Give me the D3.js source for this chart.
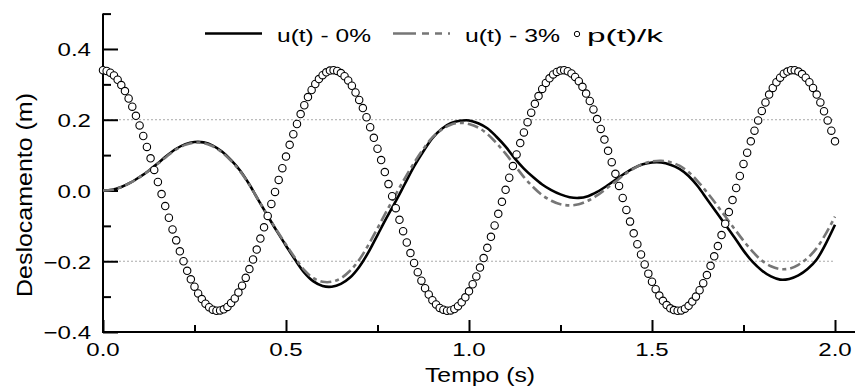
<!DOCTYPE html>
<html><head><meta charset="utf-8">
<script src="https://cdn.jsdelivr.net/npm/d3@7"></script>
<style>
body{margin:0;background:#fff}
svg{display:block}
text{font-family:"Liberation Sans",Arial,Helvetica,sans-serif;fill:#000}
</style>
</head><body>
<svg id="chart" width="855" height="388"></svg>
<script>
// ---------- data ----------
const uTime = [0.000,0.025,0.050,0.075,0.100,0.125,0.150,0.175,0.200,0.225,
0.250,0.275,0.300,0.325,0.350,0.375,0.400,0.425,0.450,0.475,
0.500,0.525,0.550,0.575,0.600,0.625,0.650,0.675,0.700,0.725,
0.750,0.775,0.800,0.825,0.850,0.875,0.900,0.925,0.950,0.975,
1.000,1.025,1.050,1.075,1.100,1.125,1.150,1.175,1.200,1.225,
1.250,1.275,1.300,1.325,1.350,1.375,1.400,1.425,1.450,1.475,
1.500,1.525,1.550,1.575,1.600,1.625,1.650,1.675,1.700,1.725,
1.750,1.775,1.800,1.825,1.850,1.875,1.900,1.925,1.950,1.975,2.000];

const uDamp0 = [0.000,0.002,0.010,0.022,0.038,0.056,0.077,0.099,0.118,0.131,
0.137,0.136,0.127,0.110,0.086,0.056,0.017,-0.028,-0.072,-0.115,
-0.156,-0.196,-0.232,-0.257,-0.270,-0.272,-0.264,-0.246,-0.216,-0.175,
-0.126,-0.077,-0.030,0.019,0.068,0.110,0.148,0.174,0.190,0.197,
0.198,0.190,0.176,0.152,0.124,0.091,0.062,0.038,0.017,0.001,
-0.011,-0.019,-0.021,-0.016,-0.004,0.012,0.030,0.048,0.063,0.074,
0.079,0.079,0.073,0.061,0.041,0.012,-0.024,-0.060,-0.096,-0.132,
-0.170,-0.202,-0.226,-0.243,-0.252,-0.250,-0.240,-0.222,-0.195,-0.150,-0.097];

const uDamp3 = [0.000,0.002,0.010,0.022,0.038,0.056,0.076,0.097,0.116,0.129,
0.135,0.134,0.125,0.108,0.084,0.054,0.016,-0.028,-0.071,-0.113,
-0.153,-0.191,-0.225,-0.248,-0.258,-0.258,-0.248,-0.227,-0.196,-0.154,
-0.107,-0.058,-0.011,0.035,0.078,0.117,0.150,0.172,0.186,0.191,
0.188,0.178,0.160,0.134,0.104,0.071,0.038,0.010,-0.013,-0.029,
-0.039,-0.042,-0.039,-0.029,-0.014,0.005,0.025,0.045,0.062,0.075,
0.082,0.084,0.080,0.070,0.052,0.026,-0.005,-0.038,-0.073,-0.108,
-0.142,-0.173,-0.198,-0.214,-0.222,-0.221,-0.210,-0.191,-0.163,-0.122,-0.074];

const pTime = [0.00,0.01,0.02,0.03,0.04,0.05,0.06,0.07,0.08,0.09,
0.10,0.11,0.12,0.13,0.14,0.15,0.16,0.17,0.18,0.19,
0.20,0.21,0.22,0.23,0.24,0.25,0.26,0.27,0.28,0.29,
0.30,0.31,0.32,0.33,0.34,0.35,0.36,0.37,0.38,0.39,
0.40,0.41,0.42,0.43,0.44,0.45,0.46,0.47,0.48,0.49,
0.50,0.51,0.52,0.53,0.54,0.55,0.56,0.57,0.58,0.59,
0.60,0.61,0.62,0.63,0.64,0.65,0.66,0.67,0.68,0.69,
0.70,0.71,0.72,0.73,0.74,0.75,0.76,0.77,0.78,0.79,
0.80,0.81,0.82,0.83,0.84,0.85,0.86,0.87,0.88,0.89,
0.90,0.91,0.92,0.93,0.94,0.95,0.96,0.97,0.98,0.99,
1.00,1.01,1.02,1.03,1.04,1.05,1.06,1.07,1.08,1.09,
1.10,1.11,1.12,1.13,1.14,1.15,1.16,1.17,1.18,1.19,
1.20,1.21,1.22,1.23,1.24,1.25,1.26,1.27,1.28,1.29,
1.30,1.31,1.32,1.33,1.34,1.35,1.36,1.37,1.38,1.39,
1.40,1.41,1.42,1.43,1.44,1.45,1.46,1.47,1.48,1.49,
1.50,1.51,1.52,1.53,1.54,1.55,1.56,1.57,1.58,1.59,
1.60,1.61,1.62,1.63,1.64,1.65,1.66,1.67,1.68,1.69,
1.70,1.71,1.72,1.73,1.74,1.75,1.76,1.77,1.78,1.79,
1.80,1.81,1.82,1.83,1.84,1.85,1.86,1.87,1.88,1.89,
1.90,1.91,1.92,1.93,1.94,1.95,1.96,1.97,1.98,1.99,2.00];

const pOverK = [0.340,0.338,0.333,0.325,0.313,0.298,0.281,0.260,0.237,0.211,
0.184,0.154,0.123,0.091,0.058,0.024,-0.010,-0.044,-0.077,-0.110,
-0.141,-0.172,-0.200,-0.227,-0.251,-0.272,-0.291,-0.307,-0.320,-0.330,
-0.337,-0.340,-0.339,-0.336,-0.329,-0.318,-0.305,-0.288,-0.269,-0.247,
-0.222,-0.195,-0.167,-0.136,-0.104,-0.072,-0.038,-0.004,0.030,0.063,
0.096,0.129,0.159,0.188,0.216,0.241,0.264,0.284,0.301,0.315,
0.326,0.334,0.339,0.340,0.338,0.332,0.323,0.311,0.296,0.277,
0.256,0.233,0.207,0.179,0.149,0.118,0.086,0.052,0.018,-0.016,
-0.050,-0.083,-0.115,-0.147,-0.177,-0.205,-0.231,-0.255,-0.276,-0.294,
-0.310,-0.322,-0.332,-0.337,-0.340,-0.339,-0.335,-0.327,-0.316,-0.302,
-0.285,-0.265,-0.243,-0.218,-0.191,-0.162,-0.131,-0.099,-0.066,-0.032,
0.002,0.036,0.069,0.102,0.134,0.164,0.193,0.220,0.245,0.267,
0.287,0.304,0.317,0.328,0.335,0.339,0.340,0.337,0.331,0.321,
0.309,0.293,0.274,0.253,0.229,0.202,0.174,0.144,0.112,0.080,
0.047,0.013,-0.021,-0.055,-0.088,-0.121,-0.152,-0.181,-0.209,-0.235,
-0.258,-0.279,-0.297,-0.312,-0.324,-0.333,-0.338,-0.340,-0.339,-0.334,
-0.326,-0.314,-0.300,-0.282,-0.262,-0.239,-0.213,-0.186,-0.157,-0.126,
-0.094,-0.061,-0.027,0.007,0.041,0.075,0.107,0.139,0.169,0.198,
0.225,0.249,0.271,0.290,0.306,0.319,0.330,0.336,0.340,0.340,
0.336,0.329,0.319,0.306,0.290,0.271,0.249,0.224,0.198,0.169,0.139];

const xTicks = [0, 0.5, 1.0, 1.5, 2.0];
const xMinorTicks = [0.25, 0.75, 1.25, 1.75];
const yTicks = [-0.4, -0.2, 0.0, 0.2, 0.4];
const yMinorTicks = [-0.3, -0.1, 0.1, 0.3, 0.5];
const gridValues = [-0.2, 0.2];
const legendLabels = ["u(t) - 0%", "u(t) - 3%", "p(t)/k"];
const xTitle = "Tempo (s)";
const yTitle = "Deslocamento (m)";

// ---------- drawing ----------
const svg = d3.select("#chart");
const x = d3.scaleLinear().domain([0, 2]).range([103, 835]);
const y = d3.scaleLinear().domain([-0.4, 0.5]).range([332, 13.6]);
const fmt = d3.format(".1f");

// grid lines
svg.append("g").selectAll("line").data(gridValues).join("line")
  .attr("x1", x(0)).attr("x2", x(2))
  .attr("y1", d => y(d)).attr("y2", d => y(d))
  .attr("stroke", "#aaa").attr("stroke-width", 1).attr("stroke-dasharray", "2,2");

// axes (ticks inward)
function styleAxis(g){
  g.select(".domain").remove();
  g.selectAll(".tick line").attr("stroke", "#000").attr("stroke-width", 2);
  g.selectAll(".tick text").remove();
}
svg.append("g").attr("transform", `translate(${x(0)},0)`)
  .call(d3.axisRight(y).tickValues(yTicks).tickSize(15).tickFormat("")).call(styleAxis);
svg.append("g").attr("transform", `translate(${x(0)},0)`)
  .call(d3.axisRight(y).tickValues(yMinorTicks).tickSize(8).tickFormat("")).call(styleAxis);
svg.append("g").attr("transform", `translate(0,${y(-0.4)})`)
  .call(d3.axisTop(x).tickValues(xTicks).tickSize(12).tickFormat("")).call(styleAxis);
svg.append("g").attr("transform", `translate(0,${y(-0.4)})`)
  .call(d3.axisTop(x).tickValues(xMinorTicks).tickSize(7).tickFormat("")).call(styleAxis);

// axis lines
svg.append("line").attr("x1", x(0)).attr("x2", x(0)).attr("y1", y(0.5)).attr("y2", y(-0.4) + 1)
  .attr("stroke", "#000").attr("stroke-width", 2);
svg.append("line").attr("x1", x(0) - 1).attr("x2", 855).attr("y1", y(-0.4)).attr("y2", y(-0.4))
  .attr("stroke", "#000").attr("stroke-width", 2);

// tick labels
svg.append("g").selectAll("text").data(xTicks).join("text")
  .attr("transform", d => `translate(${x(d)},356) scale(1.3,1)`)
  .attr("text-anchor", "middle").attr("font-size", 18.5).text(d => fmt(d));
svg.append("g").selectAll("text").data(yTicks).join("text")
  .attr("transform", d => `translate(91,${y(d) + 7.4}) scale(1.3,1)`)
  .attr("text-anchor", "end").attr("font-size", 18.5).text(d => fmt(d));

// axis titles
svg.append("text").attr("x", 425).attr("y", 382).attr("font-size", 19.5)
  .attr("textLength", 110).attr("lengthAdjust", "spacingAndGlyphs").text(xTitle);
svg.append("text").attr("transform", "translate(32,297) rotate(-90)")
  .attr("x", 0).attr("y", 0).attr("font-size", 22.5)
  .attr("textLength", 204).attr("lengthAdjust", "spacingAndGlyphs").text(yTitle);

// lines
const idx0 = d3.range(uTime.length);
const lineU0 = d3.line().x(i => x(uTime[i])).y(i => y(uDamp0[i])).curve(d3.curveCatmullRom);
const lineU3 = d3.line().x(i => x(uTime[i])).y(i => y(uDamp3[i])).curve(d3.curveCatmullRom);
svg.append("path").attr("d", lineU0(idx0)).attr("fill", "none")
  .attr("stroke", "#000").attr("stroke-width", 2.6);
svg.append("path").attr("d", lineU3(idx0)).attr("fill", "none")
  .attr("stroke", "#767676").attr("stroke-width", 2.6).attr("stroke-dasharray", "11,4,4,4");

// p(t)/k markers
svg.append("g").selectAll("circle").data(d3.range(pTime.length)).join("circle")
  .attr("cx", i => x(pTime[i])).attr("cy", i => y(pOverK[i])).attr("r", 3.7)
  .attr("fill", "#fff").attr("stroke", "#000").attr("stroke-width", 1.1);

// legend
const lg = svg.append("g");
lg.append("line").attr("x1", 205).attr("x2", 262).attr("y1", 33.5).attr("y2", 33.5)
  .attr("stroke", "#000").attr("stroke-width", 2.6);
lg.append("text").attr("x", 277).attr("y", 41.5).attr("font-size", 19)
  .attr("textLength", 94).attr("lengthAdjust", "spacingAndGlyphs").text(legendLabels[0]);
lg.append("line").attr("x1", 393).attr("x2", 450).attr("y1", 33.5).attr("y2", 33.5)
  .attr("stroke", "#767676").attr("stroke-width", 2.6).attr("stroke-dasharray", "23,6,7,6,7,6");
lg.append("text").attr("x", 465).attr("y", 41.5).attr("font-size", 19)
  .attr("textLength", 95).attr("lengthAdjust", "spacingAndGlyphs").text(legendLabels[1]);
lg.append("circle").attr("cx", 577).attr("cy", 34).attr("r", 2.7)
  .attr("fill", "#fff").attr("stroke", "#000").attr("stroke-width", 1);
lg.append("text").attr("x", 587).attr("y", 41.5).attr("font-size", 19)
  .attr("textLength", 76).attr("lengthAdjust", "spacingAndGlyphs").text(legendLabels[2]);
</script>
</body></html>
